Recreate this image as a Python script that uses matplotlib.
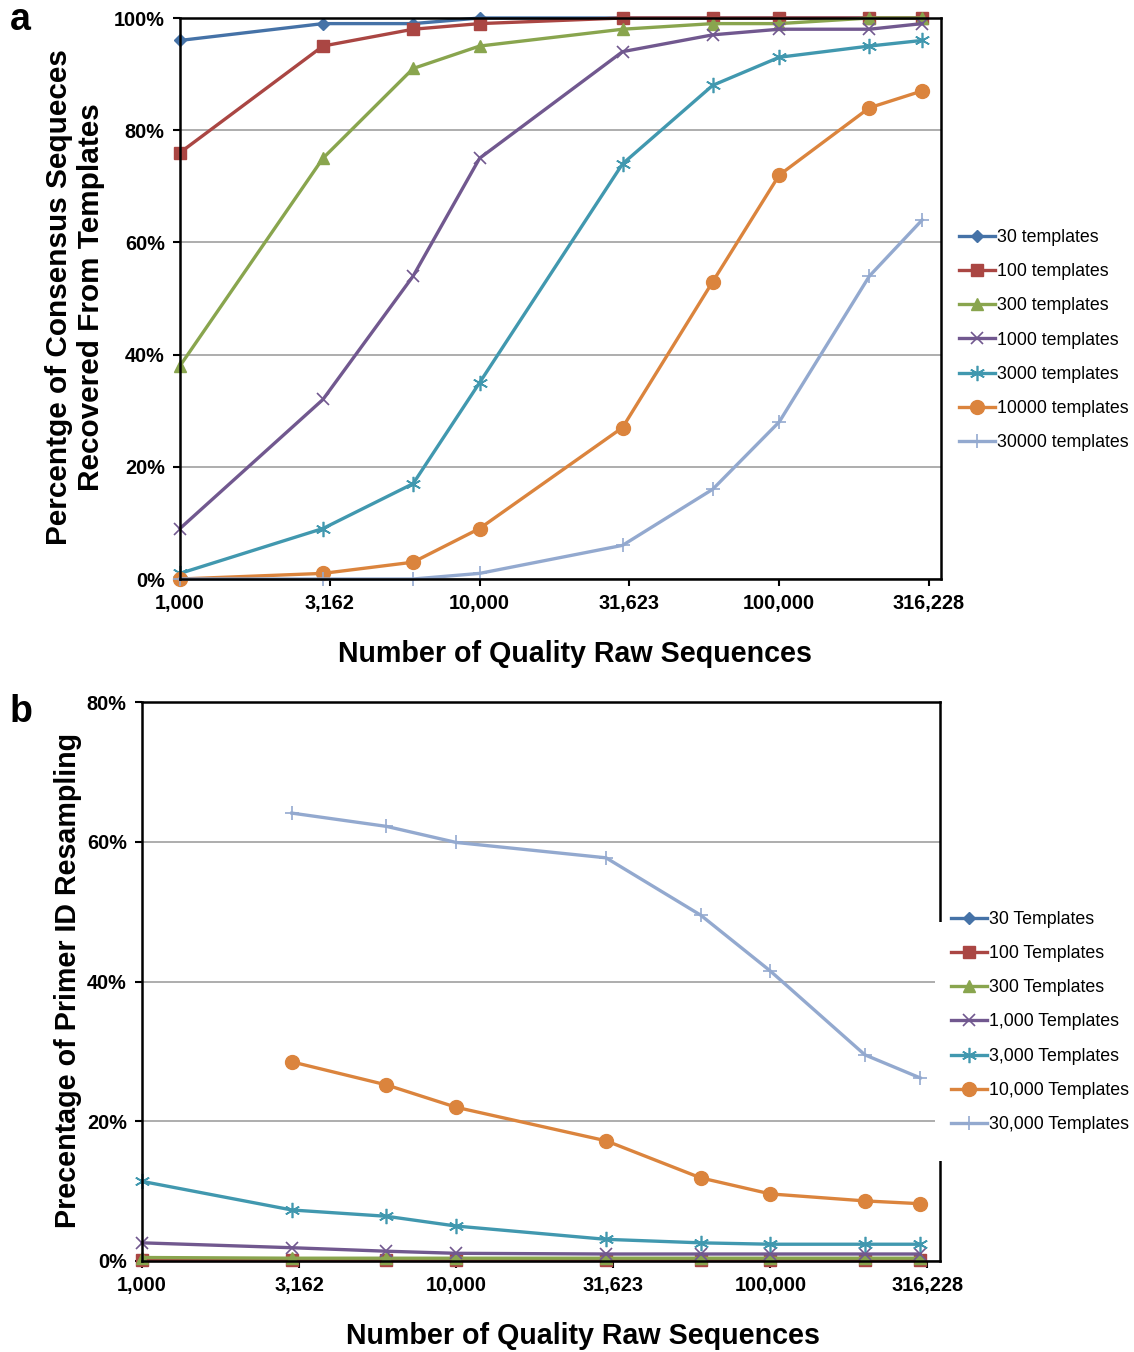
import matplotlib
matplotlib.use("Agg")
import matplotlib.pyplot as plt
from matplotlib.patches import Rectangle
from matplotlib.ticker import FixedLocator, FuncFormatter, NullLocator

plt.rcParams['font.family'] = ['Liberation Sans', 'DejaVu Sans']

# donnees
reads = [1000, 3000, 6000, 10000, 30000, 60000, 100000, 200000, 300000]
reads_b = [3000, 6000, 10000, 30000, 60000, 100000, 200000, 300000]
tick_vals = [1000, 3162, 10000, 31623, 100000, 316228]
tick_labels = ["1,000", "3,162", "10,000", "31,623", "100,000", "316,228"]

labels_a = ["30 templates", "100 templates", "300 templates", "1000 templates",
            "3000 templates", "10000 templates", "30000 templates"]
labels_b = ["30 Templates", "100 Templates", "300 Templates", "1,000 Templates",
            "3,000 Templates", "10,000 Templates", "30,000 Templates"]

# panneau a : % de sequences consensus retrouvees
a_30 = [96, 99, 99, 100, 100, 100, 100, 100, 100]
a_100 = [76, 95, 98, 99, 100, 100, 100, 100, 100]
a_300 = [38, 75, 91, 95, 98, 99, 99, 100, 100]
a_1000 = [9, 32, 54, 75, 94, 97, 98, 98, 99]
a_3000 = [1, 9, 17, 35, 74, 88, 93, 95, 96]
a_10000 = [0, 1, 3, 9, 27, 53, 72, 84, 87]
a_30000 = [0, 0, 0, 1, 6, 16, 28, 54, 64]

# panneau b : % de re-echantillonnage des Primer ID
b_30 = [0.1, 0.1, 0.1, 0.1, 0.1, 0.1, 0.1, 0.1, 0.1]
b_100 = [0.2, 0.2, 0.2, 0.2, 0.2, 0.2, 0.2, 0.2, 0.2]
b_300 = [0.5, 0.4, 0.4, 0.4, 0.4, 0.4, 0.4, 0.4, 0.4]
b_1000 = [2.6, 1.9, 1.4, 1.1, 1.0, 1.0, 1.0, 1.0, 1.0]
b_3000 = [11.4, 7.3, 6.4, 5.0, 3.1, 2.6, 2.4, 2.4, 2.4]
b_10000 = [28.5, 25.2, 22.0, 17.2, 11.9, 9.6, 8.6, 8.2]
b_30000 = [64.1, 62.2, 59.9, 57.7, 49.5, 41.5, 29.5, 26.2]

colors = ['#4572A7', '#AA4643', '#89A54E', '#71588F', '#4198AF', '#DB843D', '#93A9CF']
markers = ['D', 's', '^', 'x', (6, 2, 0), 'o', '+']
msizes = [6.5, 8.5, 9, 8.5, 11, 10, 10]
mews = [1, 1, 1, 1.2, 1.2, 1, 1.2]

W, H = 1134, 1352
fig = plt.figure(figsize=(W / 100, H / 100), dpi=100)


def box(l, t, r, b):
    return [l / W, 1 - b / H, (r - l) / W, (b - t) / H]


def style_axis(ax, ymax):
    ax.set_xscale('log')
    ax.set_xlim(1000, 10 ** 5.54)
    ax.set_ylim(0, ymax)
    ax.xaxis.set_major_locator(FixedLocator(tick_vals))
    ax.xaxis.set_minor_locator(NullLocator())
    ax.set_xticklabels(tick_labels)
    ax.set_yticks(range(0, ymax + 1, 20))
    ax.yaxis.set_major_formatter(FuncFormatter(lambda v, p: "%d%%" % v))
    ax.grid(axis='y', color='#a0a0a0', linewidth=1.2)
    ax.set_axisbelow(True)
    for s in ax.spines.values():
        s.set_linewidth(1.8)
        s.set_color('black')
    ax.tick_params(axis='both', direction='out', length=5, width=1.5,
                   labelsize=14.3, pad=6)
    for t in ax.get_xticklabels() + ax.get_yticklabels():
        t.set_fontweight('bold')


def draw(ax, series, xs_list, labels):
    for vals, xs, lab, c, m, ms, mew in zip(series, xs_list, labels, colors,
                                           markers, msizes, mews):
        ax.plot(xs, vals, color=c, marker=m, markersize=ms, markeredgewidth=mew,
                markeredgecolor=c, linewidth=2.4, label=lab, clip_on=False)


# ---- panneau a
ax1 = fig.add_axes(box(180, 18, 941, 579))
style_axis(ax1, 100)
draw(ax1, [a_30, a_100, a_300, a_1000, a_3000, a_10000, a_30000], [reads] * 7, labels_a)
ax1.legend(loc='center left', bbox_to_anchor=(954 / W, 1 - 340 / H),
           bbox_transform=fig.transFigure, frameon=False, fontsize=12.8,
           handlelength=2.0, handletextpad=0.1, labelspacing=0.97,
           borderpad=0.3, borderaxespad=0)
ax1.text(0.519, -0.134, "Number of Quality Raw Sequences", transform=ax1.transAxes,
         ha='center', va='center', fontsize=20.6, fontweight='bold')
fig.text(75 / W, 1 - 297 / H, "Percentge of Consensus Sequeces\nRecovered From Templates",
         rotation=90, ha='center', va='center', fontsize=21.4, fontweight='bold')
fig.text(10 / W, 1 - 20 / H, "a", ha='left', va='center', fontsize=27, fontweight='bold')

# ---- panneau b
ax2 = fig.add_axes(box(142, 702, 940, 1261))
style_axis(ax2, 80)
draw(ax2, [b_30, b_100, b_300, b_1000, b_3000, b_10000, b_30000],
     [reads] * 5 + [reads_b] * 2, labels_b)
ax2.legend(loc='center left', bbox_to_anchor=(946 / W, 1 - 1022 / H),
           bbox_transform=fig.transFigure, frameon=False, fontsize=12.8,
           handlelength=2.0, handletextpad=0.1, labelspacing=0.97,
           borderpad=0.3, borderaxespad=0)
ax2.text(0.553, -0.134, "Number of Quality Raw Sequences", transform=ax2.transAxes,
         ha='center', va='center', fontsize=20.6, fontweight='bold')
fig.text(68 / W, 1 - 980 / H, "Precentage of Primer ID Resampling",
         rotation=90, ha='center', va='center', fontsize=20.6, fontweight='bold')
fig.text(10 / W, 1 - 712 / H, "b", ha='left', va='center', fontsize=27, fontweight='bold')

# le cadre blanc de la legende masque le bord droit du panneau b
fig.add_artist(Rectangle((935 / W, 1 - 1161 / H), 12 / W, (1161 - 922) / H,
                         transform=fig.transFigure, facecolor='white',
                         edgecolor='none', zorder=10))

fig.savefig("out.png", dpi=100)
